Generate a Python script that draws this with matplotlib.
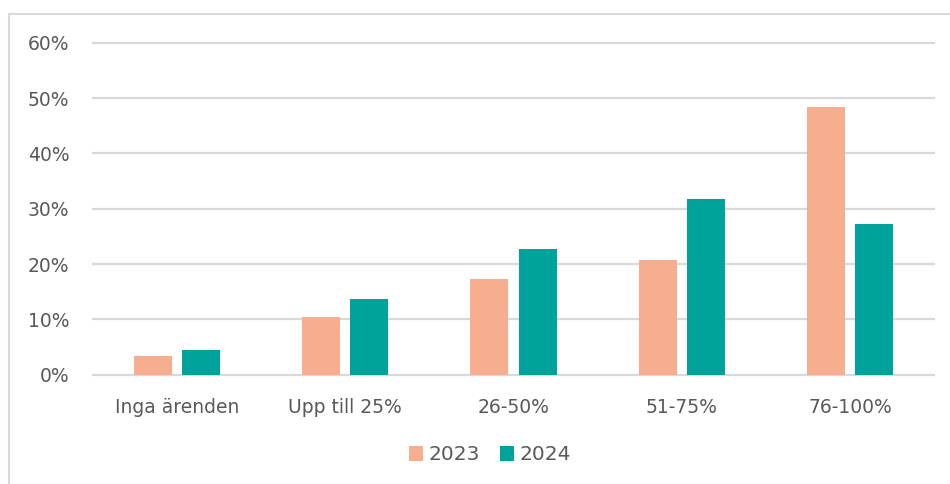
import numpy as np
import matplotlib.pyplot as plt
from matplotlib.patches import Rectangle

categories = ['Inga ärenden', 'Upp till 25%', '26-50%', '51-75%', '76-100%']
values_2023 = [3.4, 10.4, 17.3, 20.7, 48.3]
values_2024 = [4.5, 13.6, 22.7, 31.7, 27.2]
yticks = [0, 10, 20, 30, 40, 50, 60]

plt.rcParams['font.family'] = ['DejaVu Sans']
text_color = '#595959'

fig = plt.figure(figsize=(9.5, 4.84), dpi=100)
ax = fig.add_axes([93 / 950, 1 - 374.7 / 484, (934 - 93) / 950, (374.7 - 42.7) / 484])

x = np.arange(len(categories))
w = 0.226
off = 0.143
ax.bar(x - off, values_2023, w, color='#F7AE8F', label='2023', zorder=3)
ax.bar(x + off, values_2024, w, color='#00A39B', label='2024', zorder=3)

ax.set_xlim(-0.5, len(categories) - 0.5)
ax.set_ylim(0, 60)
ax.set_yticks(yticks)
ax.set_yticklabels([f'{v}%' for v in yticks])
ax.set_xticks(x)
ax.set_xticklabels(categories)
ax.grid(axis='y', color='#D9D9D9', linewidth=1.6, zorder=0)
for line in ax.get_ygridlines():
    line.set_clip_on(False)
for s in ax.spines.values():
    s.set_visible(False)
ax.tick_params(axis='both', length=0, colors=text_color, labelsize=13.5)
ax.tick_params(axis='y', pad=17)
ax.tick_params(axis='x', pad=17)

leg = fig.legend(loc='center', bbox_to_anchor=(490 / 950, 1 - 455 / 484), ncol=2,
                 frameon=False, fontsize=14.5, handlelength=0.7, handleheight=0.7,
                 handletextpad=0.25, columnspacing=1.0)
for t in leg.get_texts():
    t.set_color(text_color)

fig.patches.append(Rectangle((8.5 / 950, -0.1), 1.2, 1 - 13.5 / 484 + 0.1,
                             transform=fig.transFigure, fill=False,
                             edgecolor='#D9D9D9', linewidth=1.5))

fig.savefig('out.png', dpi=100)
